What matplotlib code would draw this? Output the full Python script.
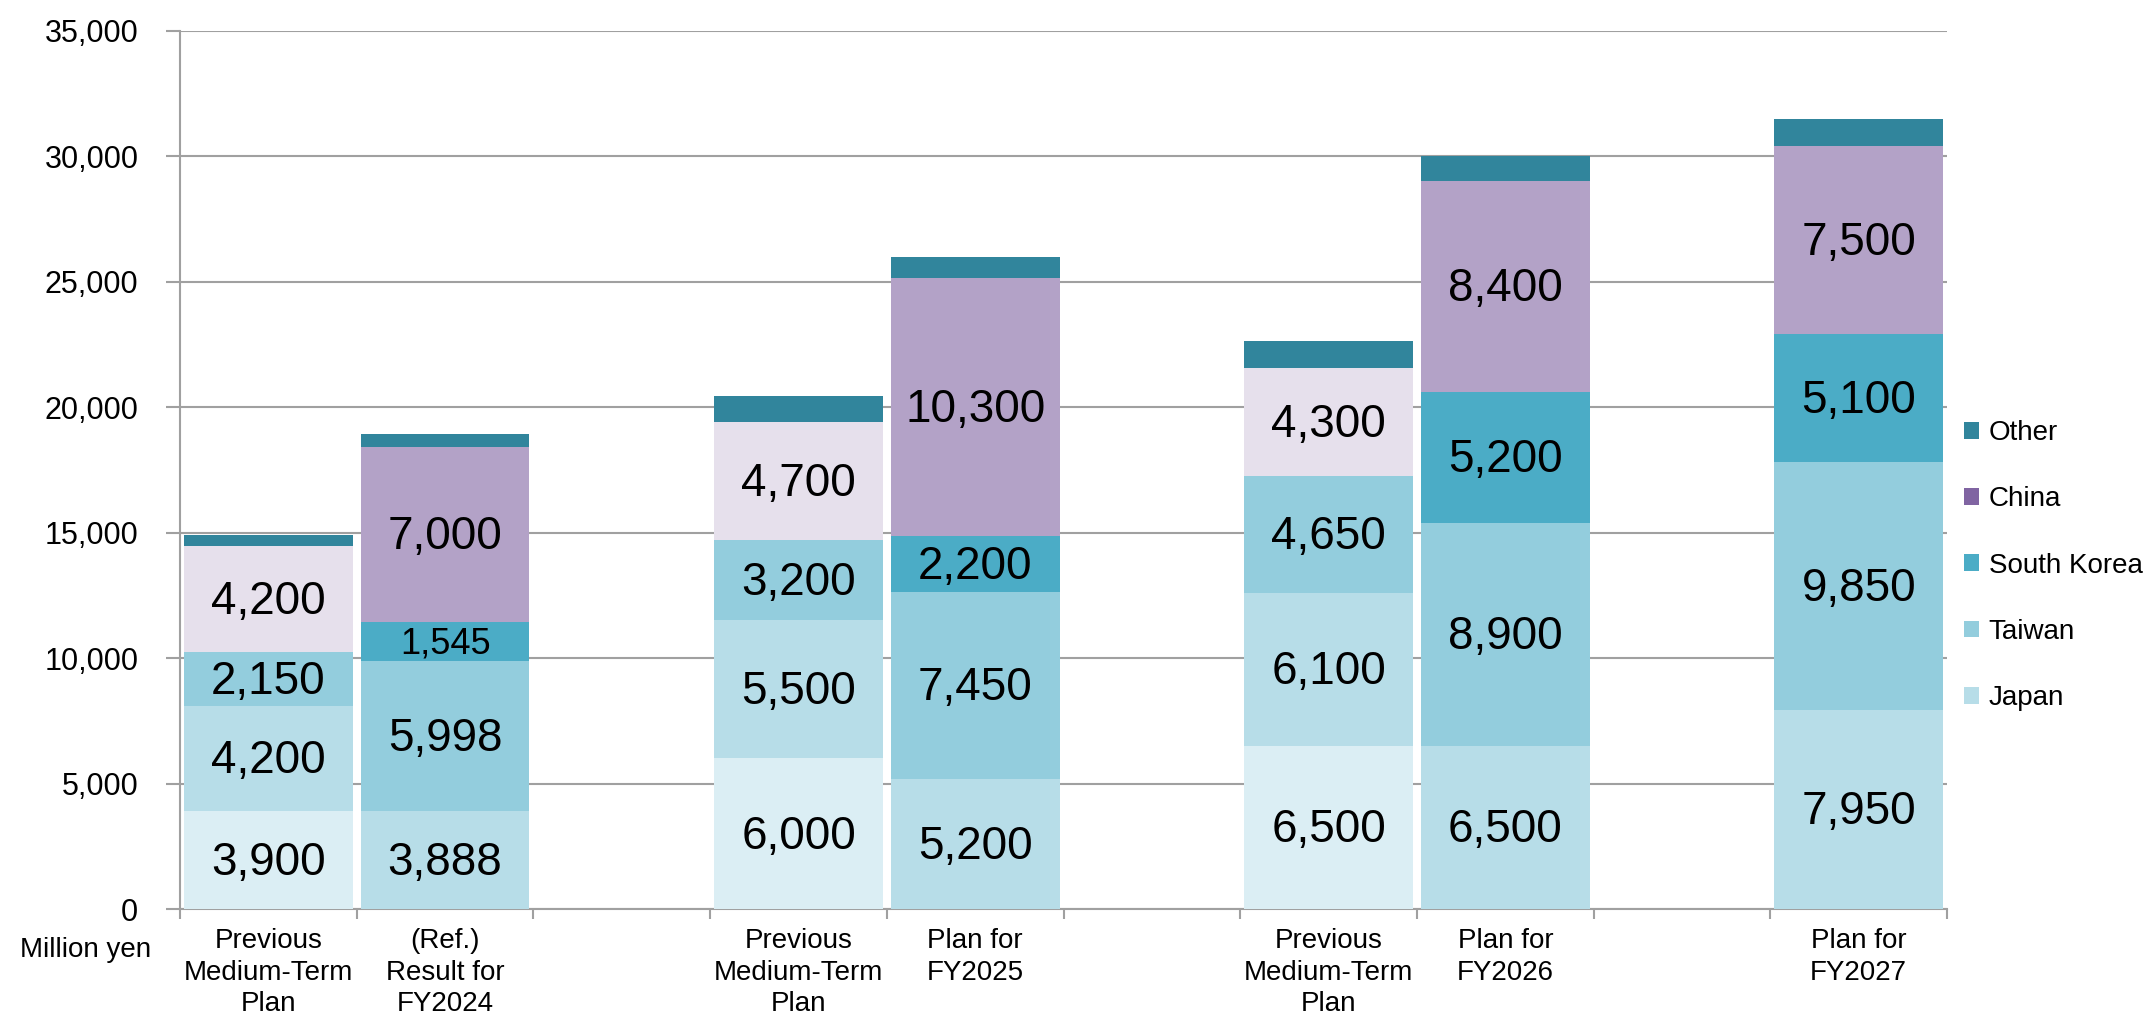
import matplotlib
matplotlib.use('Agg')
import matplotlib.pyplot as plt
from matplotlib.patches import Patch

plt.rcParams['font.family'] = ['Liberation Sans', 'DejaVu Sans']

# 数据（单位：百万日元）
categories = ['Previous\nMedium-Term\nPlan', '(Ref.)\nResult for\nFY2024', '',
              'Previous\nMedium-Term\nPlan', 'Plan for\nFY2025', '',
              'Previous\nMedium-Term\nPlan', 'Plan for\nFY2026', '',
              'Plan for\nFY2027']
japan = [3900, 3888, None, 6000, 5200, None, 6500, 6500, None, 7950]
taiwan = [4200, 5998, None, 5500, 7450, None, 6100, 8900, None, 9850]
south_korea = [2150, 1545, None, 3200, 2200, None, 4650, 5200, None, 5100]
china = [4200, 7000, None, 4700, 10300, None, 4300, 8400, None, 7500]
other = [450, 500, None, 1050, 850, None, 1100, 1000, None, 1100]
previous_plan = [True, False, False, True, False, False, True, False, False, False]

series_names = ['Japan', 'Taiwan', 'South Korea', 'China', 'Other']
plan_colors = ['#b7dde8', '#93cddd', '#4bacc6', '#b3a2c7', '#31859c']
prev_colors = ['#dbeef4', '#b7dde8', '#93cddd', '#e6e0ec', '#31859c']
legend_colors = ['#b7dde8', '#93cddd', '#4bacc6', '#8064a2', '#31859c']

fig = plt.figure(figsize=(21.51, 10.24), dpi=100)
ax = fig.add_axes([0.0837, 0.1123, 0.8215, 0.8577])

series = [japan, taiwan, south_korea, china, other]
width = 0.955
for i in range(len(categories)):
    if japan[i] is None:
        continue
    bottom = 0
    colors = prev_colors if previous_plan[i] else plan_colors
    for k, s in enumerate(series):
        v = s[i]
        ax.bar(i, v, width=width, bottom=bottom, color=colors[k], linewidth=0, zorder=3)
        if k < 4:
            fs = 26 if v < 2000 else 33
            ax.annotate(format(v, ','), (i, bottom + v / 2), xytext=(0, -2),
                        textcoords='offset points', ha='center', va='center',
                        fontsize=fs, color='black', zorder=4)
        bottom += v

ax.set_xlim(-0.5, len(categories) - 0.5)
ax.set_ylim(0, 35000)
ax.set_yticks(range(0, 35001, 5000))
ax.set_yticklabels([format(t, ',') for t in range(0, 35001, 5000)], fontsize=22)
ax.yaxis.grid(True, color='#a0a0a0', linewidth=1.5, zorder=0)
ax.tick_params(axis='y', length=10, width=1.5, color='#a0a0a0', pad=20)

ax.set_xticks([x - 0.5 for x in range(len(categories) + 1)])
ax.set_xticklabels([])
ax.tick_params(axis='x', which='major', length=7, width=1.5, color='#a0a0a0')
ax.set_xticks(range(len(categories)), minor=True)
ax.set_xticklabels(categories, minor=True, fontsize=20, linespacing=1.27)
ax.tick_params(axis='x', which='minor', length=0, pad=14)

for sp in ['top', 'right']:
    ax.spines[sp].set_visible(False)
for sp in ['left', 'bottom']:
    ax.spines[sp].set_color('#a0a0a0')
    ax.spines[sp].set_linewidth(1.5)

fig.text(0.0093, 0.0723, 'Million yen', fontsize=20, ha='left', va='center')

handles = [Patch(facecolor=legend_colors[k], label=series_names[k]) for k in range(4, -1, -1)]
ax.legend(handles=handles, loc='center left', bbox_to_anchor=(1.0, 0.391), frameon=False,
          fontsize=20, handlelength=0.55, handleheight=0.55, handletextpad=0.35,
          labelspacing=1.45, borderaxespad=0.2)

fig.savefig('out.png', dpi=100)
